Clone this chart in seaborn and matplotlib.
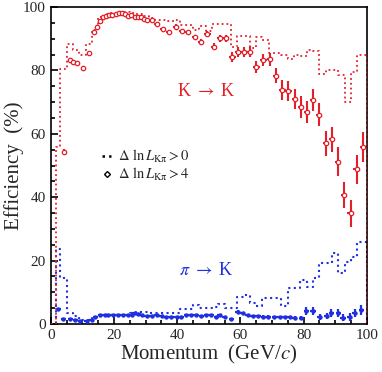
import numpy as np
import matplotlib
matplotlib.use('Agg')
import matplotlib.pyplot as plt
from matplotlib.lines import Line2D
import seaborn as sns

# histogram bin edges (GeV/c), shared by both dashed curves
edges = [1.5] + list(range(3, 100, 2)) + [100]

# dK ln L > 0 : K -> K efficiency (%)
kk_loose = [56.0, 80.5, 88.5, 86.4, 84.9, 88.5, 92.7, 97.0, 97.8, 98.2,
            98.5, 98.3, 98.0, 97.7, 97.3, 96.5, 96.0, 95.8, 95.5, 96.0,
            94.2, 94.2, 92.8, 94.0, 92.4, 94.5, 94.8, 94.5, 87.5, 90.9,
            90.9, 87.0, 90.6, 89.6, 85.4, 85.4, 85.0, 83.5, 84.8, 84.5,
            86.4, 86.0, 78.9, 80.1, 80.1, 78.5, 69.9, 79.6, 84.9, 84.9]

# dK ln L > 0 : pi -> K misidentification (%)
pik_loose = [23.6, 14.4, 3.4, 2.4, 1.3, 1.3, 2.3, 2.6, 2.8, 2.8,
             2.8, 2.8, 3.4, 3.9, 3.9, 3.6, 3.4, 3.4, 3.4, 3.6,
             4.6, 4.6, 6.0, 5.0, 4.9, 5.5, 6.2, 5.0, 5.0, 8.6,
             9.1, 6.5, 5.7, 8.1, 8.1, 8.1, 5.7, 11.3, 11.3, 13.9,
             11.8, 14.4, 19.3, 19.3, 22.3, 16.0, 19.7, 21.2, 26.0, 26.0]

# dK ln L > 4 : K -> K points
kk_p = [4.2, 6.0, 7.0, 8.4, 10.2, 12.0, 13.7, 14.6, 15.5, 16.5,
        17.5, 18.5, 19.5, 20.5, 21.5, 22.5, 23.5, 24.5, 25.5, 26.5,
        27.5, 28.5, 29.5, 30.5, 31.9, 33.7, 35.6, 37.5, 39.7, 41.6,
        43.5, 45.7, 47.6, 49.6, 51.7, 53.6, 55.5, 57.5, 59.4, 61.3,
        63.1, 65.1, 67.3, 69.4, 71.3, 73.3, 75.2, 77.3, 79.2, 81.2,
        83.1, 85.0, 87.1, 89.0, 91.0, 92.9, 94.9, 96.8, 98.9]
kk_eff = [54.4, 83.3, 82.8, 82.2, 80.9, 85.6, 92.2, 93.8, 95.5, 96.8,
          97.2, 97.4, 97.6, 97.8, 98.0, 98.0, 97.7, 97.3, 97.5, 97.0,
          96.8, 96.9, 96.3, 95.9, 95.9, 94.5, 93.1, 92.0, 93.8, 92.4,
          92.0, 90.4, 88.9, 91.4, 87.5, 90.1, 90.1, 84.3, 85.9, 85.9,
          85.9, 81.2, 83.3, 83.5, 78.3, 73.8, 73.5, 71.0, 68.5, 66.8,
          70.7, 66.1, 57.0, 58.3, 51.2, 40.7, 34.9, 48.8, 55.9]
kk_err = [0.8, 0.6, 0.6, 0.6, 0.6, 0.5, 0.4, 0.3, 0.3, 0.3,
          0.3, 0.3, 0.3, 0.3, 0.3, 0.3, 0.3, 0.3, 0.3, 0.3,
          0.3, 0.3, 0.4, 0.4, 0.5, 0.6, 0.6, 0.7, 0.7, 0.8,
          0.8, 0.9, 1.0, 1.0, 1.1, 1.1, 1.2, 1.5, 1.5, 1.6,
          1.7, 1.9, 2.0, 2.1, 2.4, 3.1, 3.2, 3.3, 3.4, 3.5,
          3.6, 3.7, 4.0, 4.0, 4.6, 4.0, 4.2, 4.5, 4.7]

# dK ln L > 4 : pi -> K points
pik_p = [2.4, 4.0, 6.1, 7.7, 9.3, 11.4, 13.0, 14.0, 15.6, 17.2,
         18.2, 19.8, 21.4, 23.0, 24.5, 25.6, 26.6, 27.7, 28.8, 30.3,
         31.9, 33.5, 35.1, 36.6, 38.2, 39.8, 41.3, 42.9, 44.5, 46.1,
         47.6, 49.2, 50.8, 52.4, 53.4, 55.0, 57.1, 59.2, 60.8, 62.4,
         64.0, 65.6, 67.2, 68.8, 70.8, 72.4, 74.0, 75.6, 77.2, 79.3,
         80.9, 83.0, 85.2, 87.3, 88.8, 91.0, 92.5, 94.6, 96.2, 98.3]
pik_eff = [4.6, 1.5, 1.5, 1.3, 1.0, 1.0, 1.3, 2.3, 2.8, 2.8,
           3.0, 2.8, 2.8, 2.8, 2.8, 3.0, 3.5, 3.3, 2.8, 2.5,
           2.5, 2.8, 2.5, 2.3, 2.3, 2.3, 2.1, 2.8, 3.0, 2.8,
           2.5, 2.8, 2.8, 2.3, 3.0, 2.3, 1.5, 3.9, 3.4, 2.8,
           2.5, 2.5, 2.3, 2.3, 2.1, 2.1, 2.1, 2.1, 1.8, 1.8,
           4.1, 4.1, 2.3, 2.5, 3.4, 3.4, 2.0, 2.3, 3.4, 4.4]
pik_err = [0.6, 0.3, 0.3, 0.3, 0.3, 0.3, 0.3, 0.3, 0.3, 0.3,
           0.3, 0.3, 0.3, 0.3, 0.3, 0.3, 0.3, 0.3, 0.3, 0.3,
           0.3, 0.3, 0.3, 0.3, 0.3, 0.3, 0.3, 0.3, 0.3, 0.3,
           0.3, 0.3, 0.3, 0.3, 0.3, 0.3, 0.3, 0.4, 0.4, 0.4,
           0.4, 0.4, 0.4, 0.4, 0.5, 0.5, 0.5, 0.5, 0.6, 0.6,
           1.2, 1.2, 1.0, 1.0, 1.3, 1.3, 1.2, 1.2, 1.3, 1.5]

RED = '#e3202a'
BLUE = '#2030e0'


def half_widths(xs, lo=31.0):
    return [0.5 if x < lo else 1.0 for x in xs]


def closed_hist(ax, values, color, lw, z):
    # pad with empty bins so the step outline drops to zero at both ends
    e = [0.0] + edges + [101.0]
    v = [0.0] + values + [0.0]
    centers = [(a + b) / 2 for a, b in zip(e[:-1], e[1:])]
    sns.histplot(x=centers, weights=v, bins=e, element='step', fill=False,
                 color=color, linestyle=':', linewidth=lw, ax=ax, zorder=z)


def main():
    sns.set_style('ticks')
    plt.rcParams['font.family'] = ['Liberation Serif', 'DejaVu Serif']
    plt.rcParams['mathtext.fontset'] = 'stix'

    fig = plt.figure(figsize=(3.82, 3.72), dpi=100)
    ax = fig.add_axes([0.133, 0.129, 0.827, 0.852])

    closed_hist(ax, kk_loose, RED, 1.3, 3)
    closed_hist(ax, pik_loose, BLUE, 1.5, 2)

    ax.errorbar(kk_p, kk_eff, xerr=half_widths(kk_p), yerr=kk_err, fmt='none',
                ecolor=RED, elinewidth=1.5, capsize=0)
    sns.scatterplot(x=kk_p, y=kk_eff, marker='o', s=10, color='white',
                    edgecolor=RED, linewidth=0.9, ax=ax, zorder=3)
    ax.errorbar(pik_p, pik_eff, xerr=[0.8] * len(pik_p), yerr=pik_err, fmt='none',
                ecolor=BLUE, elinewidth=1.6, capsize=0)
    sns.scatterplot(x=pik_p, y=pik_eff, marker='o', s=10, color=BLUE,
                    edgecolor=BLUE, linewidth=0, ax=ax, zorder=3)

    ax.text(49.3, 73.5, r'K $\rightarrow$ K', color=RED, fontsize=13,
            ha='center', va='center')
    ax.text(49.3, 17, r'$\pi$ $\rightarrow$ K', color=BLUE, fontsize=13,
            ha='center', va='center')

    handles = [Line2D([], [], color='black', linestyle=':', linewidth=1.8),
               Line2D([], [], color='black', marker='D', markersize=3,
                      markerfacecolor='white', linestyle='none')]
    labels = [r'$\Delta\ \ln L_{\rm K\pi} > 0$', r'$\Delta\ \ln L_{\rm K\pi} > 4$']
    ax.legend(handles, labels, loc='center left', bbox_to_anchor=(0.14, 0.5),
              frameon=False, fontsize=10.5, handlelength=0.6, handletextpad=0.5,
              labelspacing=0.05, borderpad=0)

    ax.set_xlim(0, 100)
    ax.set_ylim(0, 100)
    ax.set_xticks(range(0, 101, 20))
    ax.set_yticks(range(0, 101, 20))
    ax.set_xticks(range(0, 101, 5), minor=True)
    ax.set_yticks(range(0, 101, 5), minor=True)
    ax.tick_params(which='both', direction='in', labelsize=11, width=1.2, color='black')
    ax.tick_params(which='major', length=5)
    ax.tick_params(which='minor', length=3)
    for s in ax.spines.values():
        s.set_visible(True)
        s.set_linewidth(1.2)
        s.set_color('black')

    ax.set_xlabel(r'Momentum  (GeV/$c$)', fontsize=15, labelpad=1)
    ax.set_ylabel('Efficiency  (%)', fontsize=15)
    ax.yaxis.set_label_coords(-0.085, 0.5)

    fig.savefig('out.png', dpi=100)


if __name__ == '__main__':
    main()
